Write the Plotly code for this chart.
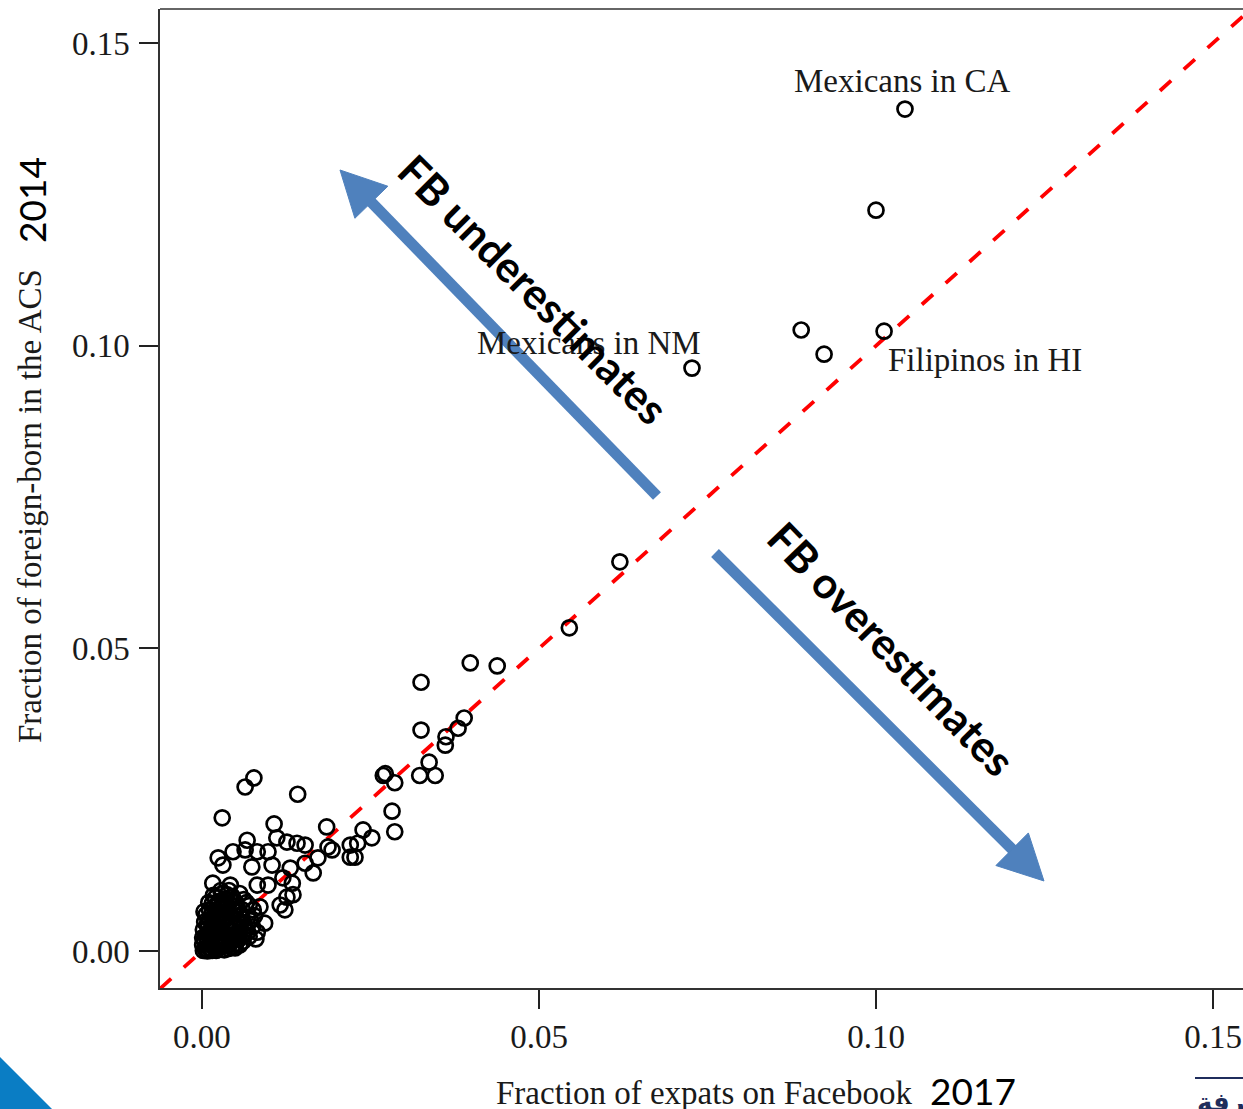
import plotly.graph_objects as go

# ---------------- data ----------------
fb_x = [0.1043, 0.1000, 0.0889, 0.1012, 0.0923, 0.0727, 0.0620, 0.0545,
        0.0325, 0.0398, 0.0438, 0.0325, 0.0389, 0.0380, 0.0362, 0.0361,
        0.0337, 0.0346, 0.0323, 0.0269, 0.0272, 0.0286, 0.0282, 0.0286,
        0.0252, 0.0239, 0.0220, 0.0231, 0.0227, 0.0220, 0.0187, 0.0193,
        0.0172, 0.0165, 0.0185, 0.0142, 0.0077, 0.0064, 0.0030, 0.0107,
        0.0067, 0.0111, 0.0126, 0.0141, 0.0153, 0.0046, 0.0064, 0.0082,
        0.0098, 0.0024, 0.0031, 0.0074, 0.0104, 0.0131, 0.0153, 0.0016,
        0.0042, 0.0082, 0.0098, 0.0120, 0.0134, 0.0126, 0.0135, 0.0116,
        0.0123, 0.0086, 0.0093, 0.0082, 0.0068,
        # dense cluster near the origin
        0.0002, 0.0005, 0.0008, 0.0010, 0.0013, 0.0016, 0.0019, 0.0022,
        0.0025, 0.0028, 0.0031, 0.0035, 0.0040, 0.0045, 0.0050, 0.0055,
        0.0003, 0.0006, 0.0009, 0.0012, 0.0015, 0.0018, 0.0021, 0.0024,
        0.0027, 0.0030, 0.0033, 0.0036, 0.0040, 0.0044, 0.0048, 0.0052,
        0.0057, 0.0062,
        0.0008, 0.0011, 0.0014, 0.0017, 0.0020, 0.0023, 0.0026, 0.0029,
        0.0032, 0.0035, 0.0038, 0.0041, 0.0045, 0.0049, 0.0053, 0.0058,
        0.0063, 0.0068,
        0.0015, 0.0020, 0.0025, 0.0030, 0.0034, 0.0040, 0.0045, 0.0050,
        0.0056, 0.0062, 0.0070, 0.0076,
        0.0001, 0.0001, 0.0002, 0.0004, 0.0006, 0.0007, 0.0009, 0.0011,
        0.0012, 0.0014, 0.0016, 0.0018, 0.0019, 0.0021, 0.0023, 0.0024,
        0.0026, 0.0027, 0.0029, 0.0031, 0.0032, 0.0034, 0.0036, 0.0037,
        0.0039, 0.0041, 0.0042, 0.0043, 0.0046, 0.0047, 0.0049, 0.0051,
        0.0052, 0.0054, 0.0056, 0.0058, 0.0060, 0.0061, 0.0065, 0.0066,
        0.0070, 0.0072, 0.0075, 0.0078, 0.0080, 0.0006, 0.0015, 0.0021,
        0.0033, 0.0044, 0.0003, 0.0010, 0.0017, 0.0028, 0.0037]
acs_y = [0.1391, 0.1224, 0.1026, 0.1024, 0.0986, 0.0963, 0.0643, 0.0534,
         0.0444, 0.0476, 0.0471, 0.0365, 0.0385, 0.0368, 0.0354, 0.0340,
         0.0312, 0.0290, 0.0290, 0.0290, 0.0293, 0.0278, 0.0231, 0.0197,
         0.0187, 0.0200, 0.0175, 0.0178, 0.0155, 0.0155, 0.0172, 0.0167,
         0.0154, 0.0129, 0.0205, 0.0259, 0.0286, 0.0271, 0.0220, 0.0210,
         0.0183, 0.0187, 0.0180, 0.0178, 0.0175, 0.0164, 0.0167, 0.0164,
         0.0164, 0.0154, 0.0142, 0.0139, 0.0142, 0.0137, 0.0145, 0.0112,
         0.0109, 0.0109, 0.0109, 0.0121, 0.0112, 0.0089, 0.0093, 0.0076,
         0.0068, 0.0073, 0.0046, 0.0031, 0.0031,
         0.0001, 0.0003, 0.0000, 0.0006, 0.0002, 0.0009, 0.0004, 0.0012,
         0.0006, 0.0014, 0.0008, 0.0016, 0.0010, 0.0018, 0.0012, 0.0020,
         0.0018, 0.0024, 0.0030, 0.0022, 0.0035, 0.0027, 0.0040, 0.0032,
         0.0024, 0.0037, 0.0029, 0.0042, 0.0034, 0.0026, 0.0038, 0.0030,
         0.0036, 0.0028,
         0.0045, 0.0052, 0.0060, 0.0048, 0.0065, 0.0055, 0.0070, 0.0047,
         0.0062, 0.0053, 0.0072, 0.0058, 0.0046, 0.0066, 0.0052, 0.0060,
         0.0045, 0.0055,
         0.0078, 0.0088, 0.0082, 0.0095, 0.0086, 0.0100, 0.0090, 0.0080,
         0.0095, 0.0085, 0.0075, 0.0068,
         0.0010, 0.0022, 0.0035, 0.0048, 0.0060, 0.0012, 0.0038, 0.0068,
         0.0015, 0.0028, 0.0044, 0.0072, 0.0019, 0.0052, 0.0078, 0.0022,
         0.0045, 0.0060, 0.0010, 0.0083, 0.0050, 0.0020, 0.0066, 0.0077,
         0.0004, 0.0047, 0.0088, 0.0022, 0.0069, 0.0033, 0.0005, 0.0042,
         0.0074, 0.0026, 0.0010, 0.0048, 0.0068, 0.0016, 0.0036, 0.0080,
         0.0024, 0.0050, 0.0040, 0.0058, 0.0020, 0.0004, 0.0001, 0.0001,
         0.0002, 0.0006, 0.0065, 0.0080, 0.0092, 0.0100, 0.0093]

label_names = ["Mexicans in CA", "Mexicans in NM", "Filipinos in HI"]
label_point = [0, 5, 3]          # index of the labelled point

tick_vals = [0.00, 0.05, 0.10, 0.15]
tick_text = ["0.00", "0.05", "0.10", "0.15"]

x_title = "Fraction of expats on Facebook"
y_title = "Fraction of foreign-born in the ACS"
x_year = "2017"
y_year = "2014"
arrow_texts = ["FB underestimates", "FB overestimates"]

# ---------------- geometry ----------------
W, H = 1243, 1109
L, R, T, B = 160, 0, 9, 121
x_range = [-0.00623, 0.15445]
y_range = [-0.00611, 0.15563]

PW = W - L - R
PH = H - T - B


def px(x):
    return (x - L) / PW


def py(y):
    return (H - B - y) / PH


serif = "Liberation Serif"
sans = "Lato"
ink = "#1a1a1a"
arrow_col = "#4F81BD"

fig = go.Figure()

# reference line y = x across the whole box
fig.add_trace(go.Scatter(
    x=[x_range[0], x_range[1]], y=[x_range[0], x_range[1]],
    mode="lines", line=dict(color="#ff0000", width=3.8, dash="15px,17px"),
    hoverinfo="skip", showlegend=False))

fig.add_trace(go.Scatter(
    x=fb_x, y=acs_y, mode="markers",
    marker=dict(symbol="circle-open", size=15, color="black",
                line=dict(width=2.7, color="black")),
    showlegend=False, cliponaxis=False))

axis_common = dict(
    tickvals=tick_vals, ticktext=tick_text, ticks="outside", ticklen=19,
    tickwidth=1.5, tickcolor="#222", showgrid=False, zeroline=False,
    showline=True, linecolor="#333", linewidth=1.5,
    tickfont=dict(family=serif, size=33, color=ink),
)

fig.update_layout(
    width=W, height=H,
    margin=dict(l=L, r=R, t=T, b=B, pad=0),
    plot_bgcolor="white", paper_bgcolor="white",
    xaxis=dict(range=x_range, ticklabelstandoff=0, **axis_common),
    yaxis=dict(range=y_range, ticklabelstandoff=3, **axis_common),
)

shapes = []
# top edge of the box
shapes.append(dict(type="line", xref="paper", yref="paper", x0=0, x1=1,
                   y0=1, y1=1, line=dict(color="#333", width=1.5)))


def arrow(tail, tip, half=23, head=45, width=11):
    dx, dy = tip[0] - tail[0], tip[1] - tail[1]
    n = (dx * dx + dy * dy) ** 0.5
    ux, uy = dx / n, dy / n
    bx, by = tip[0] - ux * head, tip[1] - uy * head
    nx, ny = -uy, ux
    shp = [dict(type="line", xref="paper", yref="paper",
                x0=px(tail[0]), y0=py(tail[1]),
                x1=px(bx + ux * 4), y1=py(by + uy * 4),
                line=dict(color=arrow_col, width=width))]
    pts = [(tip[0], tip[1]), (bx + nx * half, by + ny * half),
           (bx - nx * half, by - ny * half)]
    path = "M " + " L ".join(f"{px(a):.5f},{py(b):.5f}" for a, b in pts) + " Z"
    shp.append(dict(type="path", xref="paper", yref="paper", path=path,
                    fillcolor=arrow_col, line=dict(color=arrow_col, width=1)))
    return shp


shapes += arrow((657, 496), (340, 170))
shapes += arrow((715, 553), (1044, 881))

# slide decorations
shapes.append(dict(type="path", xref="paper", yref="paper",
                   path=f"M {px(0)},{py(1057)} L {px(53)},{py(1110)} L {px(0)},{py(1110)} Z",
                   fillcolor="#0A7DC4", line=dict(width=0)))
shapes.append(dict(type="line", xref="paper", yref="paper",
                   x0=px(1195), x1=px(1243), y0=py(1078), y1=py(1078),
                   line=dict(color="#1F2D5C", width=2)))
fig.update_layout(shapes=shapes)

ann = []
shifts = [(-3, 28), (-103, 25), (101, -29)]
for name, idx, (sx, sy) in zip(label_names, label_point, shifts):
    ann.append(dict(x=fb_x[idx], y=acs_y[idx], xref="x", yref="y",
                    text=name, showarrow=False, xshift=sx, yshift=sy,
                    xanchor="center", yanchor="middle",
                    font=dict(family=serif, size=33, color=ink)))


def paper_text(x, y, text, font, angle=0, xanchor="center"):
    return dict(x=px(x), y=py(y), xref="paper", yref="paper", text=text,
                showarrow=False, textangle=angle, xanchor=xanchor,
                yanchor="middle", font=font)


ann.append(paper_text(704, 1093, x_title, dict(family=serif, size=33, color=ink)))
ann.append(paper_text(30, 506, y_title, dict(family=serif, size=33, color=ink), -90))
ann.append(paper_text(973, 1090, x_year, dict(family=sans, size=37, color="black")))
ann.append(paper_text(31, 200, y_year, dict(family=sans, size=37, color="black"), -90))
ann.append(paper_text(533, 289, f"<b>{arrow_texts[0]}</b>",
                      dict(family=sans, size=43, color="black"), 45))
ann.append(paper_text(892, 648, f"<b>{arrow_texts[1]}</b>",
                      dict(family=sans, size=43, color="black"), 46))
ann.append(paper_text(1195, 1102, "<b>معرفة</b>",
                      dict(family="DejaVu Sans", size=26, color="#1F2D5C"),
                      xanchor="left"))
fig.update_layout(annotations=ann)

fig.write_html("out.html", config={"displayModeBar": False},
               post_script="document.body.style.margin='0';"
                           "document.body.style.overflow='hidden';")
